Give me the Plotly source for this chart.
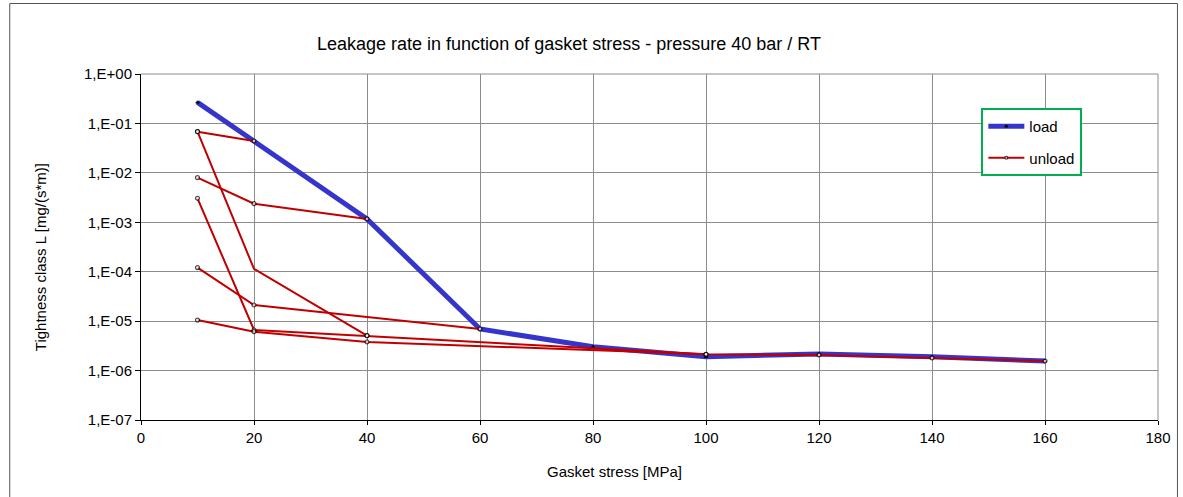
import plotly.graph_objects as go

# ---- data ----
load_x = [10, 20, 40, 60, 80, 100, 120, 140, 160]
load_y = [0.267, 0.0441, 1.17e-3, 6.93e-6, 3.04e-6, 1.91e-6, 2.16e-6, 1.91e-6, 1.56e-6]

# unload branches (each drawn as its own polyline, single legend entry)
unload1_x = [20, 10]
unload1_y = [0.0441, 0.068]
unload2_x = [40, 20, 10]
unload2_y = [1.17e-3, 2.38e-3, 7.98e-3]
unload3_x = [60, 20, 10]
unload3_y = [6.93e-6, 2.12e-5, 1.21e-4]
unload4_x = [10, 20, 40]
unload4_y = [0.068, 1.14e-4, 5.08e-6]
unload5_x = [100, 40, 20, 10]
unload5_y = [2.13e-6, 5.08e-6, 6.62e-6, 3.06e-3]
unload6_x = [160, 140, 120, 100, 40, 20, 10]
unload6_y = [1.56e-6, 1.80e-6, 2.07e-6, 2.13e-6, 3.79e-6, 6.12e-6, 1.05e-5]
unload4_hidden = [False, True, False]  # bend point without marker

y_tickvals = [1, 1e-1, 1e-2, 1e-3, 1e-4, 1e-5, 1e-6, 1e-7]
y_ticktext = ["1,E+00", "1,E-01", "1,E-02", "1,E-03", "1,E-04", "1,E-05", "1,E-06", "1,E-07"]
x_tickvals = [0, 20, 40, 60, 80, 100, 120, 140, 160, 180]

branches = [
    (unload1_x, unload1_y, None),
    (unload2_x, unload2_y, None),
    (unload3_x, unload3_y, None),
    (unload4_x, unload4_y, unload4_hidden),
    (unload5_x, unload5_y, None),
    (unload6_x, unload6_y, None),
]
ux, uy, usz = [], [], []
for bx, by, hid in branches:
    for i, (a, b) in enumerate(zip(bx, by)):
        ux.append(a)
        uy.append(b)
        usz.append(0 if (hid and hid[i]) else 4)
    ux.append(None)
    uy.append(None)
    usz.append(0)

FONT = "Liberation Sans, Arial, sans-serif"
L, R, T, B = 141, 1160, 74, 420
PW, PH = R - L, B - T


def px(xp):
    return (xp - L) / PW


def py(yp):
    return (B - yp) / PH


fig = go.Figure()
fig.add_trace(go.Scatter(
    x=load_x, y=load_y, mode="lines+markers", name="load",
    line=dict(color="#3535CC", width=5),
    marker=dict(size=3, color="#1a1a1a", symbol="triangle-up", line=dict(color="#000000", width=1)),
    legendgroup="a",
))
fig.add_trace(go.Scatter(
    x=ux, y=uy, mode="lines+markers", name="unload",
    line=dict(color="#C00000", width=2),
    marker=dict(size=usz, color="#ffffff", line=dict(color="#000000", width=1.2)),
    connectgaps=False,
    legendgroup="b",
))

fig.update_layout(
    width=1183, height=497,
    margin=dict(l=L, r=1183 - R, t=T, b=497 - B),
    paper_bgcolor="white", plot_bgcolor="white",
    font=dict(family=FONT, size=14, color="#000000"),
    showlegend=True,
    legend=dict(
        x=px(983), y=py(108), xanchor="left", yanchor="top",
        bordercolor="#00B050", borderwidth=2, bgcolor="white",
        font=dict(family=FONT, size=15),
        tracegroupgap=9,
        itemwidth=36,
        entrywidth=66,
    ),
    xaxis=dict(
        range=[0, 180], tickvals=x_tickvals, showgrid=True, gridcolor="#8c8c8c", gridwidth=1,
        showline=True, linecolor="#000000", linewidth=1, ticks="outside", ticklen=4,
        tickcolor="#000000", zeroline=False, tickfont=dict(size=15),
    ),
    yaxis=dict(
        type="log", range=[-7, 0], tickvals=y_tickvals, ticktext=y_ticktext,
        showgrid=True, gridcolor="#8c8c8c", gridwidth=1,
        showline=True, linecolor="#000000", linewidth=1, ticks="outside", ticklen=5,
        tickcolor="#000000", zeroline=False, tickfont=dict(size=15),
    ),
    annotations=[
        dict(text="Leakage rate in function of gasket stress - pressure 40 bar / RT",
             xref="paper", yref="paper", x=px(570), y=py(44),
             xanchor="center", yanchor="middle", showarrow=False,
             font=dict(family=FONT, size=18)),
        dict(text="Gasket stress [MPa]", xref="paper", yref="paper",
             x=px(615), y=py(471), xanchor="center", yanchor="middle",
             showarrow=False, font=dict(family=FONT, size=15)),
        dict(text="Tightness class L [mg/(s*m)]", xref="paper", yref="paper",
             x=px(40), y=py(257), xanchor="center", yanchor="middle",
             textangle=-90, showarrow=False, font=dict(family=FONT, size=15)),
    ],
    shapes=[
        dict(type="line", xref="paper", yref="paper", x0=1, x1=1, y0=0, y1=1,
             line=dict(color="#8c8c8c", width=1)),
        dict(type="line", xref="paper", yref="paper", x0=0, x1=1, y0=1, y1=1,
             line=dict(color="#8c8c8c", width=1)),
        # outer chart frame
        dict(type="rect", xref="paper", yref="paper",
             x0=px(9.5), x1=px(1179.5), y0=py(520), y1=py(3.5),
             line=dict(color="#555555", width=1)),
    ],
)

fig.write_html(
    "out.html",
    config={"displayModeBar": False},
    post_script="document.body.style.margin='0';document.body.style.padding='0';",
)
